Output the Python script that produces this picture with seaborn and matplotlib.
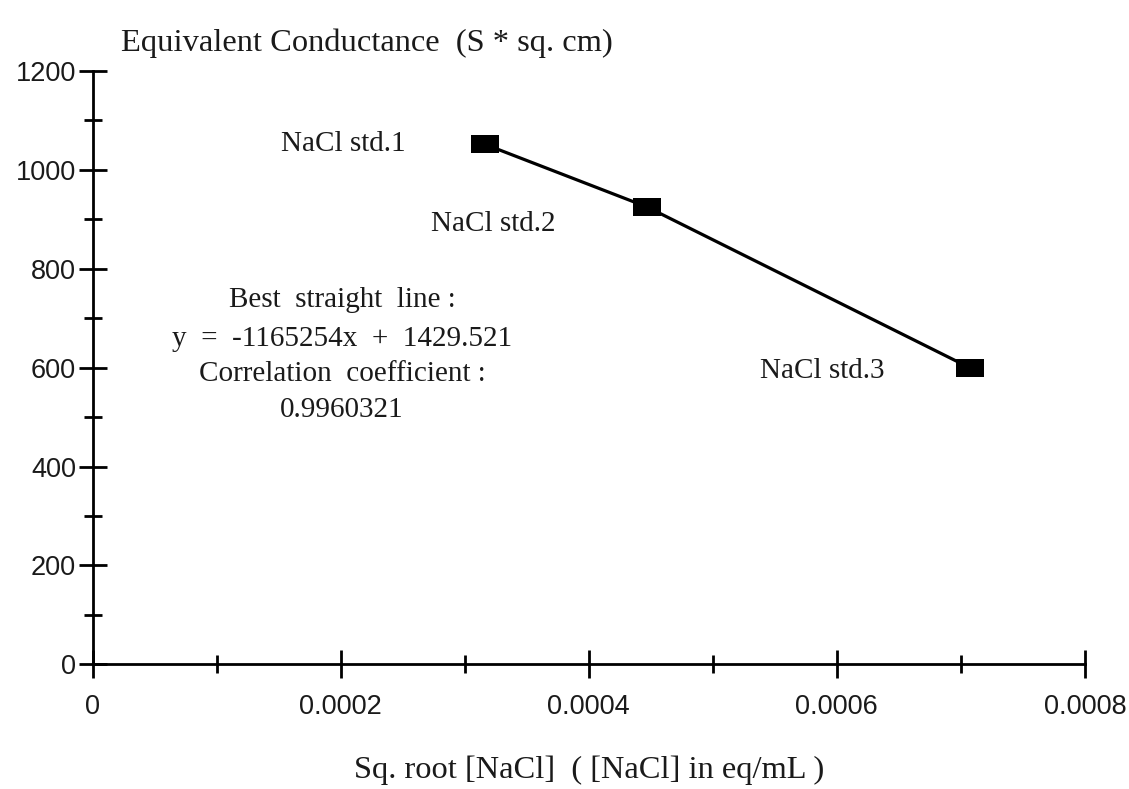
import matplotlib
matplotlib.use("Agg")
import matplotlib.pyplot as plt
from matplotlib.ticker import MultipleLocator, FixedLocator
import numpy as np
import pandas as pd
import seaborn as sns

# Square-root concentration of the NaCl standards and their equivalent conductance
sqrt_conc = [0.000316, 0.000447, 0.000707]
conductance = [1052, 925, 600]
std_labels = ["NaCl std.1", "NaCl std.2", "NaCl std.3"]

fit_lines = [
    "Best  straight  line :",
    "y  =  -1165254x  +  1429.521",
    "Correlation  coefficient :",
    "0.9960321",
]

x_ticks = [0, 0.0002, 0.0004, 0.0006, 0.0008]
x_tick_labels = ["0", "0.0002", "0.0004", "0.0006", "0.0008"]
y_ticks = [0, 200, 400, 600, 800, 1000, 1200]

sns.set_style("ticks")
plt.rcParams["font.family"] = ["Liberation Sans", "DejaVu Sans"]

SERIF = "Liberation Serif"
INK = "#1a1a1a"

fig = plt.figure(figsize=(11.29, 7.89), dpi=100)
ax = fig.add_axes([0.082, 0.158, 0.879, 0.752])

df = pd.DataFrame({"x": sqrt_conc, "y": conductance})

# wide rectangular marker
rect = [(-1.0, -0.66), (1.0, -0.66), (1.0, 0.66), (-1.0, 0.66), (-1.0, -0.66)]
sns.lineplot(data=df, x="x", y="y", ax=ax, color="black", linewidth=2.3,
             marker=rect, markersize=19.5, markeredgewidth=0,
             markerfacecolor="black", sort=False)

ax.set_xlim(0, 0.0008)
ax.set_ylim(0, 1200)

for s in ["top", "right"]:
    ax.spines[s].set_visible(False)
for s in ["left", "bottom"]:
    ax.spines[s].set_color("black")
    ax.spines[s].set_linewidth(2.0)

ax.xaxis.set_major_locator(FixedLocator(x_ticks))
ax.xaxis.set_minor_locator(MultipleLocator(0.0001))
ax.yaxis.set_major_locator(FixedLocator(y_ticks))
ax.yaxis.set_minor_locator(MultipleLocator(100))
ax.set_xticklabels(x_tick_labels)

ax.tick_params(axis="both", which="both", bottom=True, left=True,
               top=False, right=False)
ax.tick_params(axis="both", which="major", direction="inout", length=20,
               width=2, color="black", labelsize=19.5, labelcolor=INK)
ax.tick_params(axis="both", which="minor", direction="inout", length=13,
               width=2, color="black")
ax.tick_params(axis="x", which="major", pad=11)
ax.tick_params(axis="y", which="major", pad=2)

ax.set_xlabel("Sq. root [NaCl]  ( [NaCl] in eq/mL )", fontfamily=SERIF,
              fontsize=23.4, color=INK, labelpad=26)
ax.set_ylabel("")

fig.text(0.107, 0.945, "Equivalent Conductance  (S * sq. cm)", fontfamily=SERIF,
         fontsize=23.4, color=INK, ha="left", va="center")

# labels beside each standard
label_pos = [(0.000202, 1052), (0.000323, 891), (0.000588, 594)]
for (lx, ly), txt in zip(label_pos, std_labels):
    ax.text(lx, ly, txt, fontfamily=SERIF, fontsize=21, color=INK,
            ha="center", va="center")

# regression summary block
block_y = [736, 659, 587, 515]
for yy, line in zip(block_y, fit_lines):
    ax.text(0.000201, yy, line, fontfamily=SERIF, fontsize=21, color=INK,
            ha="center", va="center")

fig.savefig("out.png", dpi=100, facecolor="white")
